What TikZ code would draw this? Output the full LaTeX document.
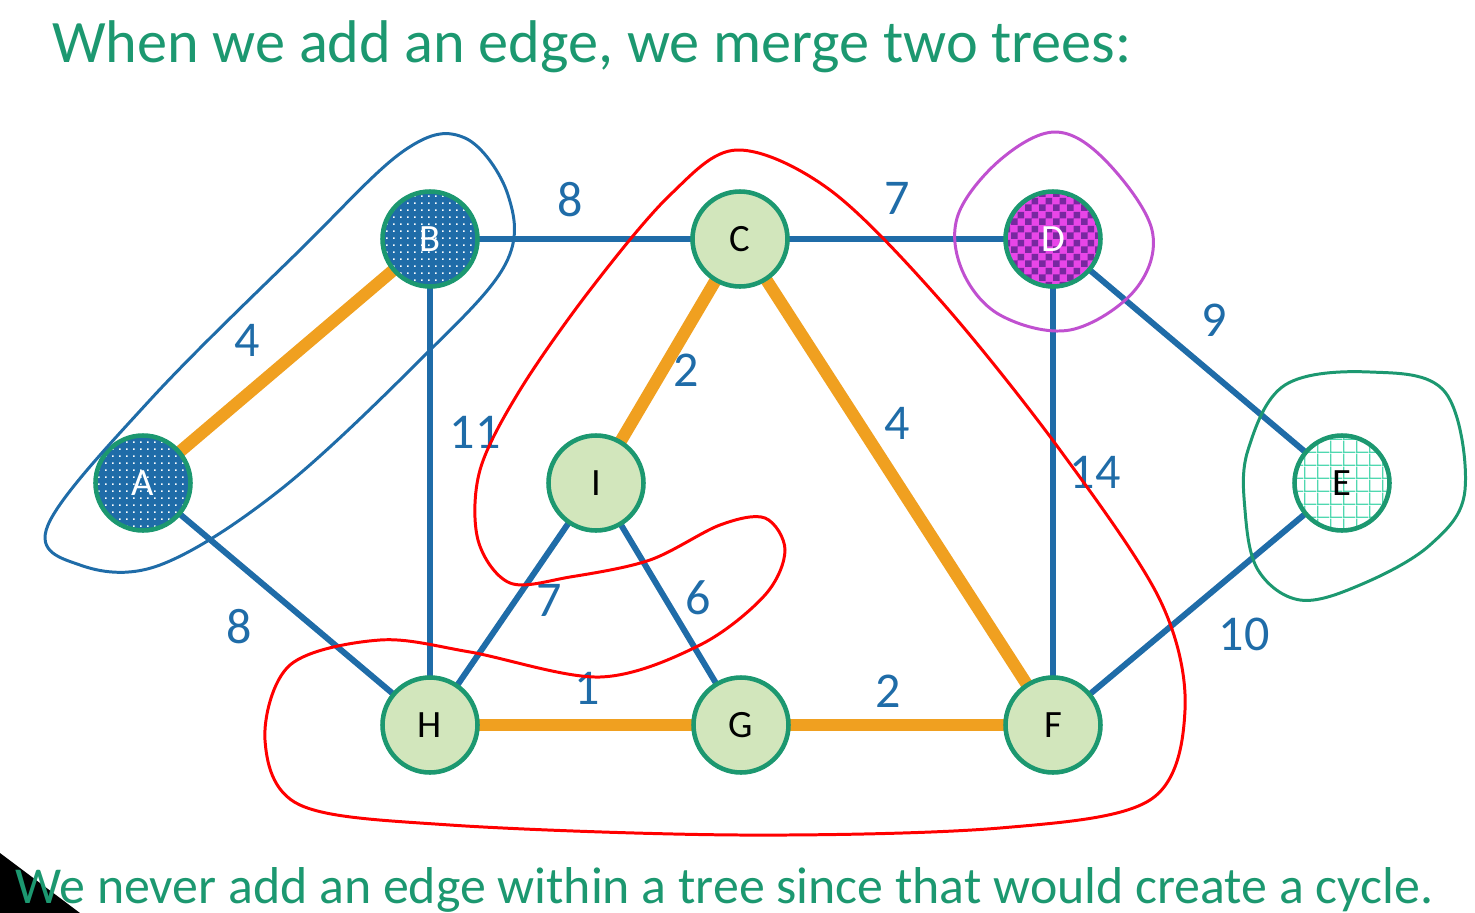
\documentclass[tikz,border=0pt]{standalone}
\usepackage{fontspec}
\setmainfont{Carlito}
\usetikzlibrary{patterns}
\definecolor{tgreen}{RGB}{28,152,112}
\definecolor{nfill}{RGB}{210,230,188}
\definecolor{eblue}{RGB}{31,108,168}
\definecolor{eorange}{RGB}{240,160,32}
\definecolor{dmag}{RGB}{232,70,232}
\definecolor{dpur}{RGB}{120,40,160}
\definecolor{egrid}{RGB}{80,216,176}
\definecolor{cpurple}{RGB}{192,80,208}
\pgfdeclarepatternformonly{mydots}{\pgfpointorigin}{\pgfqpoint{4pt}{4pt}}{\pgfqpoint{4pt}{4pt}}{%
  \pgfpathrectangle{\pgfpointorigin}{\pgfqpoint{1.1pt}{1.1pt}}\pgfusepath{fill}}
\pgfdeclarepatternformonly{mychecker}{\pgfpointorigin}{\pgfqpoint{8pt}{8pt}}{\pgfqpoint{8pt}{8pt}}{%
  \pgfpathrectangle{\pgfpointorigin}{\pgfqpoint{4pt}{4pt}}%
  \pgfpathrectangle{\pgfqpoint{4pt}{4pt}}{\pgfqpoint{4pt}{4pt}}\pgfusepath{fill}}
\pgfdeclarepatternformonly{mygrid}{\pgfpointorigin}{\pgfqpoint{7.5pt}{7.5pt}}{\pgfqpoint{7.5pt}{7.5pt}}{%
  \pgfpathrectangle{\pgfpointorigin}{\pgfqpoint{7.5pt}{0.9pt}}%
  \pgfpathrectangle{\pgfpointorigin}{\pgfqpoint{0.9pt}{7.5pt}}\pgfusepath{fill}}
\tikzset{
  vtx/.style={circle, draw=tgreen, line width=2.6pt, minimum size=1.9cm, inner sep=0pt,
    font=\fontsize{22}{26}\selectfont},
  plain/.style={vtx, fill=nfill},
  dotted blue/.style={vtx, preaction={fill=eblue}, preaction={pattern=mydots, pattern color=white}, text=white},
  checkd/.style={vtx, preaction={fill=dmag}, preaction={pattern=mychecker, pattern color=dpur}, text=white},
  gridd/.style={vtx, preaction={fill=white}, preaction={pattern=mygrid, pattern color=egrid}},
  bedge/.style={draw=eblue, line width=3.4pt},
  oedge/.style={draw=eorange, line width=7pt},
  wlab/.style={text=eblue, font=\fontsize{28.5}{32}\selectfont, inner sep=0pt},
  hdr/.style={text=tgreen, font=\fontsize{34.3}{40}\selectfont, inner sep=0pt},
  ftr/.style={text=tgreen, font=\fontsize{29.5}{34}\selectfont, inner sep=0pt},
  loop/.style={line width=1.7pt}
}
\begin{document}
\begin{tikzpicture}[x=0.02cm,y=-0.02cm]
\useasboundingbox (0,0) rectangle (1475,913);
\fill[black] (0,853) -- (0,913) -- (80,913) -- cycle;
\path
  (430,239) coordinate (pB)
  (740,239) coordinate (pC)
  (1053,239) coordinate (pD)
  (143,483) coordinate (pA)
  (596,483) coordinate (pI)
  (1342,483) coordinate (pE)
  (430,725) coordinate (pH)
  (741,725) coordinate (pG)
  (1053,725) coordinate (pF);
% edges
\draw[bedge] (pB) -- (pC);
\draw[bedge] (pC) -- (pD);
\draw[bedge] (pB) -- (pH);
\draw[bedge] (pA) -- (pH);
\draw[bedge] (pD) -- (pF);
\draw[bedge] (pD) -- (pE);
\draw[bedge] (pE) -- (pF);
\draw[bedge] (pI) -- (pH);
\draw[bedge] (pI) -- (pG);
\draw[oedge] (pA) -- (pB);
\draw[oedge] (pC) -- (pI);
\draw[oedge] (pC) -- (pF);
\draw[oedge] (pH) -- (pG);
\draw[oedge] (pG) -- (pF);
% vertices
\node[dotted blue] (B) at (pB) {B};
\node[plain] (C) at (pC) {C};
\node[checkd] (D) at (pD) {D};
\node[dotted blue] (A) at (pA) {A};
\node[plain] (I) at (pI) {I};
\node[gridd] (E) at (pE) {E};
\node[plain] (H) at (pH) {H};
\node[plain] (G) at (pG) {G};
\node[plain] (F) at (pF) {F};
% weights
\node[wlab] (w1) at (570,200) {8};
\node[wlab] (w2) at (897,198) {7};
\node[wlab] (w3) at (247,340) {4};
\node[wlab] (w4) at (686,370) {2};
\node[wlab] (w5) at (475,432) {11};
\node[wlab] (w6) at (897,423) {4};
\node[wlab] (w7) at (1095,472) {14};
\node[wlab] (w8) at (1214,320) {9};
\node[wlab] (w9) at (239,627) {8};
\node[wlab] (w10) at (549,600) {7};
\node[wlab] (w11) at (698,598) {6};
\node[wlab] (w12) at (587,688) {1};
\node[wlab] (w13) at (888,691) {2};
\node[wlab] (w14) at (1244,634) {10};
% tree outlines
\draw[loop, draw=eblue] plot[smooth cycle, tension=0.6] coordinates {
  (48,525) (150,400) (300,250) (405,150) (465,138) (508,195) (505,265)
  (420,360) (280,490) (160,565) (80,565)};
\draw[loop, draw=red] plot[smooth cycle, tension=0.55] coordinates {
  (737,150) (830,190) (940,300) (1060,450) (1160,600) (1185,710) (1150,800)
  (1000,828) (740,835) (450,825) (300,805) (265,740) (290,665) (380,640)
  (470,652) (600,677) (700,645) (765,595) (785,550) (765,518) (720,525)
  (650,560) (570,577) (510,583) (478,540) (480,470) (520,390) (590,290) (670,195)};
\draw[loop, draw=cpurple] plot[smooth cycle, tension=0.6] coordinates {
  (958,215) (1000,160) (1055,132) (1105,160) (1152,230) (1135,290)
  (1070,330) (1000,315) (962,270)};
\draw[loop, draw=tgreen] plot[smooth cycle, tension=0.6] coordinates {
  (1248,450) (1285,385) (1370,372) (1445,392) (1465,490) (1430,545)
  (1360,585) (1300,600) (1258,570) (1245,510)};
% texts
\node[hdr, anchor=base west] (title) at (52,62) {When we add an edge, we merge two trees:};
\node[ftr, anchor=base west] (foot) at (15,903) {We never add an edge within a tree since that would create a cycle.};
\end{tikzpicture}
\end{document}
